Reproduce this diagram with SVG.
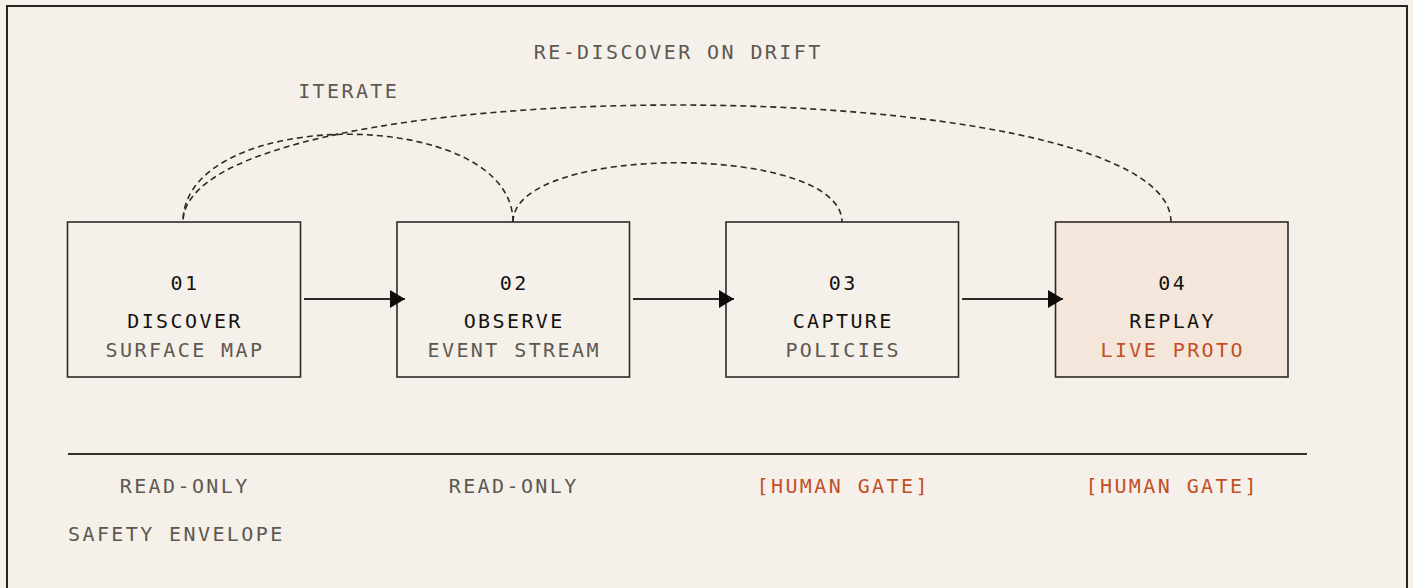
<svg xmlns="http://www.w3.org/2000/svg" width="1413" height="588" viewBox="0 0 1413 588">
  <style>
    text { font-family: "DejaVu Sans Mono", "Liberation Mono", monospace; font-size: 20px; letter-spacing: 2.4px; }
    .c { text-anchor: middle; }
    .pri { fill: #141210; }
    .sec { fill: #5e5852; }
    .acc { fill: #c24f26; }
    .box { fill: #f5f0e9; stroke: #2e2a27; stroke-width: 1.6; }
    .hot { fill: #f4e6da; }
    .flow { fill: none; stroke: #2e2a27; stroke-width: 1.8; }
    .loop { fill: none; stroke: #2e2a27; stroke-width: 1.6; stroke-dasharray: 6 4; }
  </style>
  <defs>
    <marker id="ah" viewBox="0 0 15 18" refX="15" refY="9" markerWidth="15" markerHeight="18" markerUnits="userSpaceOnUse" orient="auto">
      <path d="M0,0 L15,9 L0,18 Z" fill="#0d0c0b"/>
    </marker>
  </defs>
  <rect x="0" y="0" width="1413" height="588" fill="#f5f0e9"/>
  <rect x="7" y="6" width="1400" height="600" fill="#f5f0e9" stroke="#272421" stroke-width="2"/>

  <g id="n01">
    <rect class="box" x="67.5" y="222" width="233" height="155"/>
    <text class="c pri" x="185" y="290">01</text>
    <text class="c pri" x="185" y="328">DISCOVER</text>
    <text class="c sec" x="185" y="357">SURFACE MAP</text>
  </g>
  <g id="n02">
    <rect class="box" x="397" y="222" width="232.5" height="155"/>
    <text class="c pri" x="514.2" y="290">02</text>
    <text class="c pri" x="514.2" y="328">OBSERVE</text>
    <text class="c sec" x="514.2" y="357">EVENT STREAM</text>
  </g>
  <g id="n03">
    <rect class="box" x="726" y="222" width="232.5" height="155"/>
    <text class="c pri" x="843.2" y="290">03</text>
    <text class="c pri" x="843.2" y="328">CAPTURE</text>
    <text class="c sec" x="843.2" y="357">POLICIES</text>
  </g>
  <g id="n04">
    <rect class="box hot" x="1055.5" y="222" width="232.5" height="155"/>
    <text class="c pri" x="1172.7" y="290">04</text>
    <text class="c pri" x="1172.7" y="328">REPLAY</text>
    <text class="c acc" x="1172.7" y="357">LIVE PROTO</text>
  </g>

  <g id="connectors">
    <path class="flow" d="M304,299 L405,299" marker-end="url(#ah)"/>
    <path class="flow" d="M633,299 L734,299" marker-end="url(#ah)"/>
    <path class="flow" d="M962,299 L1063,299" marker-end="url(#ah)"/>
    <path class="loop" d="M513,222 C513,105 183,105 183,222"/>
    <path class="loop" d="M513,222 C513,143 842,143 842,222"/>
    <path class="loop" d="M1171,222 C1171,66 183,66 183,222"/>
    <text class="c sec" x="678.2" y="59">RE-DISCOVER ON DRIFT</text>
    <text class="c sec" x="348.7" y="98">ITERATE</text>
  </g>

  <g id="envelope">
    <line x1="68" y1="454" x2="1307" y2="454" stroke="#33302c" stroke-width="2"/>
    <text class="c sec" x="184.7" y="493">READ-ONLY</text>
    <text class="c sec" x="513.7" y="493">READ-ONLY</text>
    <text class="c acc" x="843.2" y="493">[HUMAN GATE]</text>
    <text class="c acc" x="1172.2" y="493">[HUMAN GATE]</text>
    <text class="sec" x="68" y="541">SAFETY ENVELOPE</text>
  </g>
</svg>
